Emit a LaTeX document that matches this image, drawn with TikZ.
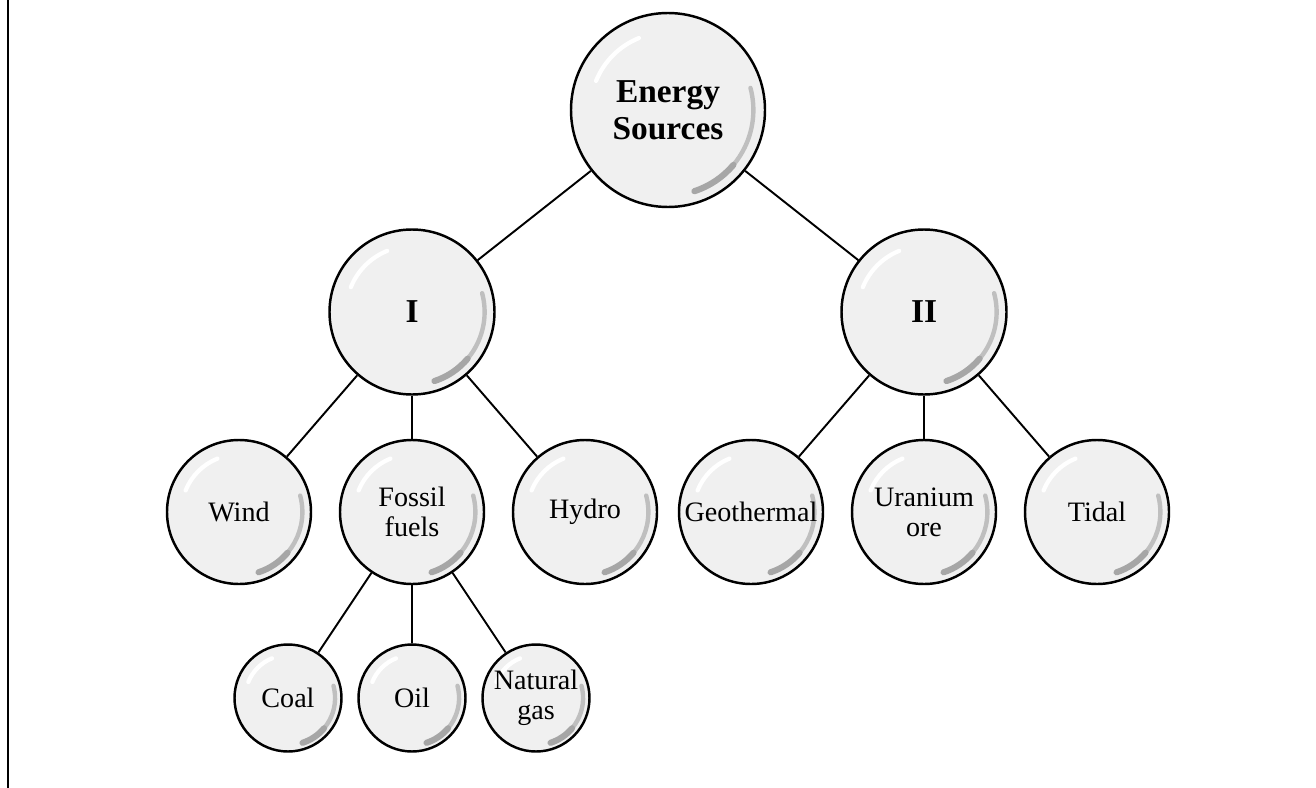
\documentclass[tikz,border=0pt]{standalone}
\usepackage{fontspec}
\setmainfont{Liberation Serif}
\usetikzlibrary{trees,calc}

\begin{document}
\begin{tikzpicture}
	[ball/.style={circle, draw, line width=1.4pt, fill=black!6, inner sep=0pt, align=center,
		font=\fontsize{16}{17}\selectfont,
		path picture={
			\draw[white, line width=2.4pt, line cap=round] let \p1=(path picture bounding box.north), \p2=(path picture bounding box.center), \n1={\y1-\y2} in
				(\p2) ++(112:{0.8*\n1}) arc[start angle=112, end angle=158, radius={0.8*\n1}];
			\draw[black!25, line width=2.5pt, line cap=round] let \p1=(path picture bounding box.north), \p2=(path picture bounding box.center), \n1={\y1-\y2} in
				(\p2) ++(15:{0.88*\n1}) arc[start angle=15, end angle=-72, radius={0.88*\n1}];
			\draw[black!35, line width=3.5pt, line cap=round] let \p1=(path picture bounding box.north), \p2=(path picture bounding box.center), \n1={\y1-\y2} in
				(\p2) ++(-40:{0.88*\n1}) arc[start angle=-40, end angle=-72, radius={0.88*\n1}];
		}},
	 rootball/.style={ball, minimum size=3.88cm, font=\fontsize{19}{21}\selectfont\bfseries},
	 bigball/.style={ball, minimum size=3.3cm, font=\fontsize{19}{21}\selectfont\bfseries},
	 midball/.style={ball, minimum size=2.88cm},
	 smallball/.style={ball, minimum size=2.14cm},
	 edge from parent/.style={draw, line width=1.1pt},
	 level 1/.style={sibling distance=10.24cm, level distance=4.04cm},
	 level 2/.style={sibling distance=3.46cm, level distance=4cm},
	 level 3/.style={sibling distance=2.48cm, level distance=3.72cm}]
	\useasboundingbox (0,0) rectangle (26.32,-15.76);
	\draw[line width=1.2pt] (0.16,0) -- (0.16,-15.76);
  	\node[rootball] (energy) at (13.36,-2.2) {Energy\\Sources}
    	child{ node[bigball] (one) {I}
    	     	child { node[midball] (wind) {Wind}}
   		child { node[midball] (fossil) {Fossil\\fuels}
   			child { node[smallball] (coal) {Coal}}
   			child { node[smallball] (oil) {Oil}}
   			child { node[smallball] (gas) {Natural\\gas}}
   		}
		child { node[midball] (hydro) {Hydro}}
    	}
    	child{ node[bigball] (two) {II}
    		child { node[midball] (geo) {Geothermal}}
    		child { node[midball] (uranium) {Uranium\\ore}}
    		child { node[midball] (tidal) {Tidal}}
	};
\end{tikzpicture}
\end{document}
